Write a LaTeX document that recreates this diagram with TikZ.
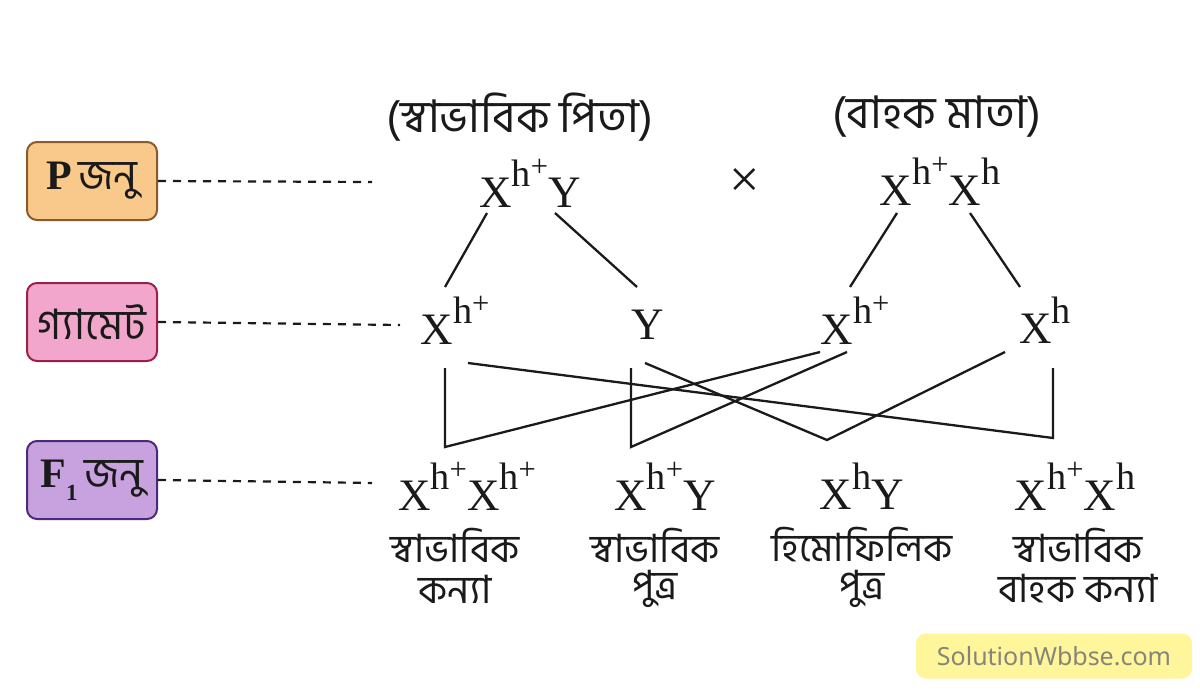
\documentclass[tikz,border=0pt]{standalone}
\usepackage{fontspec}
\setmainfont{Liberation Serif}
\newfontfamily\bn[Script=Bengali]{Hind Siliguri}
\newfontfamily\wmfont{Noto Sans}
\usepackage{graphicx}
\definecolor{ink}{HTML}{1A1A1A}
\definecolor{pfill}{HTML}{F9C88B}
\definecolor{pdraw}{HTML}{8B5A2B}
\definecolor{gfill}{HTML}{F2A6CC}
\definecolor{gdraw}{HTML}{9B2045}
\definecolor{ffill}{HTML}{C7A2DE}
\definecolor{fdraw}{HTML}{4B2A7A}
\definecolor{wmfill}{HTML}{FFF59A}
\definecolor{wmtext}{HTML}{85857A}
\newcommand\hp{h\raisebox{0.28em}{\scalebox{0.8}{+}}}
\newcommand\sx[1]{\raisebox{0.45em}{\scalebox{0.85}{#1}}}
\begin{document}
\begin{tikzpicture}[x=1pt,y=-1pt,
  lab/.style={rounded corners=10pt, line width=2pt, minimum width=130pt, minimum height=78pt, inner sep=0pt, text=ink, font=\fontsize{42}{44}\selectfont},
  geno/.style={text=ink, inner sep=0pt, font=\fontsize{45}{48}\selectfont},
  btxt/.style={text=ink, inner sep=0pt, font=\bn\fontsize{39}{40}\selectfont},
  htxt/.style={text=ink, inner sep=0pt, font=\bn\fontsize{45}{48}\selectfont},
  conn/.style={draw=ink, line width=2.3pt},
  dashline/.style={draw=ink, line width=2.2pt, dash pattern=on 8pt off 7pt}]
\useasboundingbox (0,0) rectangle (1200,699);
\fill[white] (0,0) rectangle (1200,699);
% left labels
\node[lab, fill=pfill, draw=pdraw] (P) at (92,181) {\textbf{P}\,{\bn জনু}};
\node[lab, fill=gfill, draw=gdraw] (G) at (92,322) {\bn গ্যামেট};
\node[lab, fill=ffill, draw=fdraw] (F) at (92,480) {\textbf{F}\raisebox{-0.3em}{\scalebox{0.55}{\textbf{1}}}\,{\bn জনু}};
\coordinate (Pe) at (372,182);
\coordinate (Ge) at (400,325);
\coordinate (Fe) at (372,483);
\draw[dashline] (P.east) -- (Pe);
\draw[dashline] (G.east) -- (Ge);
\draw[dashline] (F.east) -- (Fe);
% parents
\node[htxt] (fal) at (520,117) {(স্বাভাবিক পিতা)};
\node[htxt] (mol) at (937,117) {(বাহক মাতা)};
\node[geno] (fa) at (530,183) {X\sx{\hp}Y};
\node[geno, font=\fontsize{54}{56}\selectfont] (cross) at (745,183) {×};
\node[geno] (mo) at (940,181) {X\sx{\hp}X\sx{h}};
% gametes
\node[geno] (g1) at (455,320) {X\sx{\hp}};
\node[geno] (g2) at (648,325) {Y};
\node[geno] (g3) at (855,320) {X\sx{\hp}};
\node[geno] (g4) at (1045,320) {X\sx{h}};
% P to gamete lines
\coordinate (fa1) at (487,213); \coordinate (g1t) at (445,287);
\coordinate (fa2) at (555,213); \coordinate (g2t) at (637,287);
\coordinate (mo1) at (897,213); \coordinate (g3t) at (850,287);
\coordinate (mo2) at (970,213); \coordinate (g4t) at (1020,287);
\draw[conn] (fa1) -- (g1t);
\draw[conn] (fa2) -- (g2t);
\draw[conn] (mo1) -- (g3t);
\draw[conn] (mo2) -- (g4t);
% offspring
\node[geno] (o1) at (467,486) {X\sx{\hp}X\sx{\hp}};
\node[geno] (o2) at (665,486) {X\sx{\hp}Y};
\node[geno] (o3) at (862,486) {X\sx{h}Y};
\node[geno] (o4) at (1075,486) {X\sx{\hp}X\sx{h}};
\node[btxt] (t1a) at (455,545) {স্বাভাবিক};
\node[btxt] (t1b) at (455,589) {কন্যা};
\node[btxt] (t2a) at (655,545) {স্বাভাবিক};
\node[btxt] (t2b) at (655,589) {পুত্র};
\node[btxt] (t3a) at (862,545) {হিমোফিলিক};
\node[btxt] (t3b) at (862,589) {পুত্র};
\node[btxt] (t4a) at (1078,545) {স্বাভাবিক};
\node[btxt] (t4b) at (1078,589) {বাহক কন্যা};
% cross lines
\coordinate (a1) at (445,368); \coordinate (a2) at (445,447); \coordinate (a3) at (820,352);
\coordinate (b1) at (631,368); \coordinate (b2) at (631,447); \coordinate (b3) at (847,352);
\coordinate (c1) at (645,363); \coordinate (c2) at (827,440); \coordinate (c3) at (1005,352);
\coordinate (d1) at (1053,368); \coordinate (d2) at (1053,438); \coordinate (d3) at (468,363);
\draw[conn] (a1) -- (a2) -- (a3);
\draw[conn] (b1) -- (b2) -- (b3);
\draw[conn] (c1) -- (c2) -- (c3);
\draw[conn] (d1) -- (d2) -- (d3);
% watermark
\node[fill=wmfill, rounded corners=10pt, minimum width=276pt, minimum height=45pt, inner sep=0pt, text=wmtext, font=\wmfont\bfseries\fontsize{25}{28}\selectfont] (wm) at (1054,656) {SolutionWbbse.com};
\end{tikzpicture}
\end{document}
